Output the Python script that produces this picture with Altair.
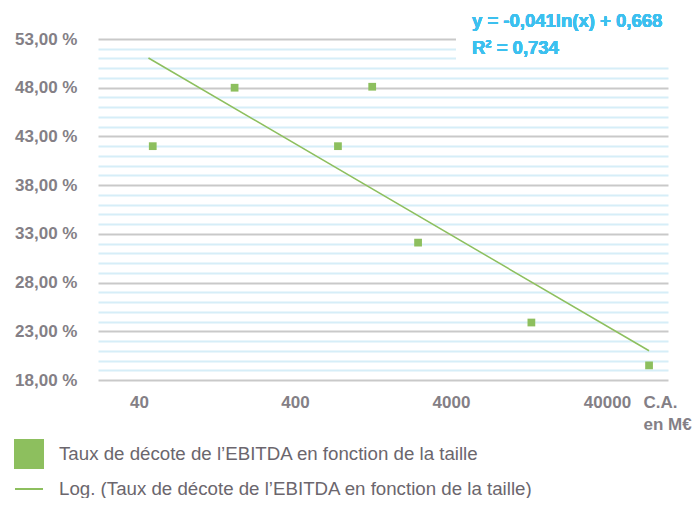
import altair as alt
import pandas as pd

# ---- data ----
ca = [49, 164, 754, 1250, 2460, 13100, 74400]          # C.A. en M€
taux = [0.42, 0.48, 0.42, 0.481, 0.321, 0.239, 0.195]  # taux de décote
trend_ca = [46, 74400]
trend_taux = [0.5105, 0.210]
x_ticks = [40, 400, 4000, 40000]
y_ticks = [v / 100 for v in range(18, 54)]
s1 = "Taux de décote de l’EBITDA en fonction de la taille"
s2 = "Log. (Taux de décote de l’EBITDA en fonction de la taille)"
eq_line1 = "y = -0,041ln(x) + 0,668"
eq_line2 = "R² = 0,734"
x_title = ["C.A.", "en M€"]

GREEN = "#8dbf5e"
CYAN = "#3cc0ef"
AXIS_TXT = "#847f86"
LEG_TXT = "#6b666d"
FONT = "Liberation Sans"

pts = pd.DataFrame({"ca": ca, "taux": taux, "serie": [s1] * len(ca)})
trend = pd.DataFrame({"ca": trend_ca, "taux": trend_taux, "serie": [s2] * len(trend_ca)})

xscale = alt.Scale(type="log", domain=[21.84, 98400], nice=False)
yscale = alt.Scale(domain=[0.18, 0.53], nice=False, zero=False)

x_axis = alt.Axis(
    values=x_ticks, format="d", grid=False, domain=False, ticks=False, tickSize=0,
    labelFontSize=17, labelFontWeight="bold", labelColor=AXIS_TXT, labelFont=FONT,
    labelPadding=22, labelBaseline="middle", labelFlush=False, labelOverlap=False,
    title=x_title, titleX=545, titleY=14, titleAlign="left", titleAnchor="start",
    titleBaseline="top", titleFontSize=17, titleFontWeight="bold", titleColor=AXIS_TXT,
    titleFont=FONT, titleLineHeight=22, titleAngle=0,
)
y_axis = alt.Axis(
    values=y_ticks,
    labelExpr="round(datum.value*100) % 5 == 3 ? replace(format(datum.value*100, '.2f'), '.', ',') + ' %' : ''",
    gridColor={"condition": {"test": "round(datum.value*100) % 5 == 3", "value": "#c9c9c9"}, "value": "#d6eef8"},
    gridWidth=1.8, domain=False, ticks=False, tickSize=0,
    labelPadding=21, labelFontSize=17, labelFontWeight="bold", labelColor=AXIS_TXT,
    labelFont=FONT, labelOverlap=False, labelFlush=False, labelBaseline="middle", title=None,
)

leg = alt.Legend(
    orient="none", legendX=-84, legendY=400, title=None, padding=0,
    symbolSize=784, symbolStrokeWidth=2, symbolStrokeColor=GREEN,
    labelFontSize=18.7, labelColor=LEG_TXT, labelFont=FONT, labelOffset=15,
    rowPadding=2, labelLimit=0, symbolOffset=0, direction="vertical",
)
color = alt.Color("serie:N", scale=alt.Scale(domain=[s1, s2], range=[GREEN, GREEN]), legend=leg, title=None)
shape = alt.Shape("serie:N", scale=alt.Scale(domain=[s1, s2], range=["square", "stroke"]), legend=leg, title=None)

base_x = alt.X("ca:Q", scale=xscale, axis=x_axis)
base_y = alt.Y("taux:Q", scale=yscale, axis=y_axis)

line = alt.Chart(trend).mark_line(strokeWidth=1.5).encode(x=base_x, y=base_y, color=color)
points = alt.Chart(pts).mark_point(filled=True, size=60, opacity=1).encode(
    x=base_x, y=base_y, color=color, shape=shape
)

mask = alt.Chart(pts).mark_rect(color="white").encode(
    x=alt.value(358), x2=alt.value(576), y=alt.value(-6), y2=alt.value(24)
)
txt1 = alt.Chart(pts).mark_text(
    text=eq_line1, align="left", baseline="alphabetic", fontSize=18.5, fontWeight="bold",
    color=CYAN, font=FONT
).encode(x=alt.value(374), y=alt.value(-12))
txt2 = alt.Chart(pts).mark_text(
    text=eq_line2, align="left", baseline="alphabetic", fontSize=18.5, fontWeight="bold",
    color=CYAN, font=FONT
).encode(x=alt.value(374), y=alt.value(15))

chart = alt.layer(mask, line, points, txt1, txt2).properties(
    width=570, height=341,
    autosize=alt.AutoSizeParams(type="none"),
    padding={"left": 90, "top": 31, "right": 24, "bottom": 118},
    background="white",
).configure_view(stroke=None)

chart.save("out.html", embed_options={"renderer": "svg", "actions": False})
